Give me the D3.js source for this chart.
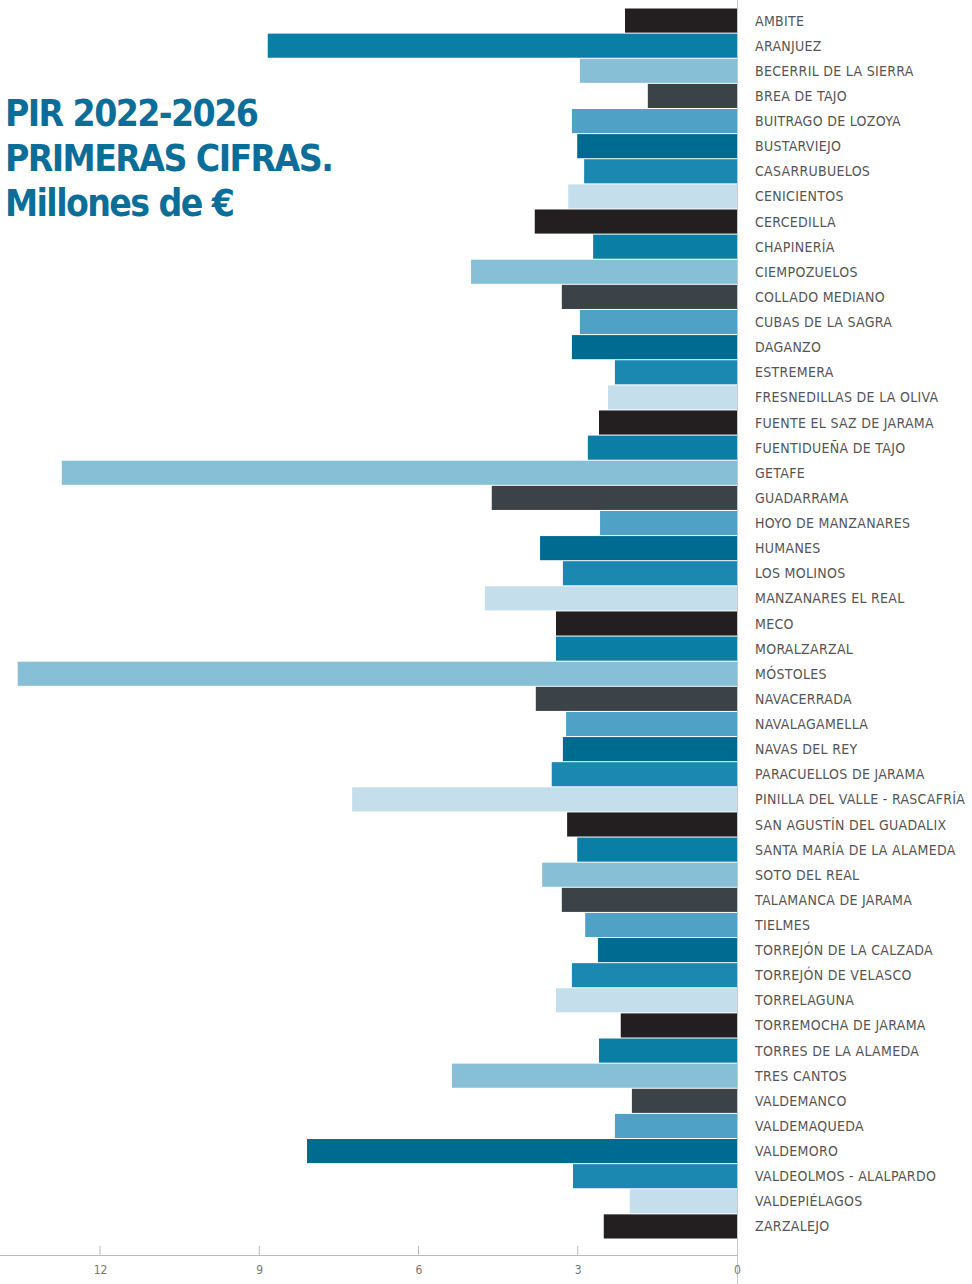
<!DOCTYPE html>
<html><head><meta charset="utf-8">
<script src="https://cdn.jsdelivr.net/npm/d3@7"></script>
<style>body{margin:0;background:#fff}svg{display:block}</style>
</head><body>
<svg id="c" width="972" height="1284"></svg>
<script>
const categories = ["AMBITE","ARANJUEZ","BECERRIL DE LA SIERRA","BREA DE TAJO","BUITRAGO DE LOZOYA","BUSTARVIEJO","CASARRUBUELOS","CENICIENTOS","CERCEDILLA","CHAPINERÍA","CIEMPOZUELOS","COLLADO MEDIANO","CUBAS DE LA SAGRA","DAGANZO","ESTREMERA","FRESNEDILLAS DE LA OLIVA","FUENTE EL SAZ DE JARAMA","FUENTIDUEÑA DE TAJO","GETAFE","GUADARRAMA","HOYO DE MANZANARES","HUMANES","LOS MOLINOS","MANZANARES EL REAL","MECO","MORALZARZAL","MÓSTOLES","NAVACERRADA","NAVALAGAMELLA","NAVAS DEL REY","PARACUELLOS DE JARAMA","PINILLA DEL VALLE - RASCAFRÍA","SAN AGUSTÍN DEL GUADALIX","SANTA MARÍA DE LA ALAMEDA","SOTO DEL REAL","TALAMANCA DE JARAMA","TIELMES","TORREJÓN DE LA CALZADA","TORREJÓN DE VELASCO","TORRELAGUNA","TORREMOCHA DE JARAMA","TORRES DE LA ALAMEDA","TRES CANTOS","VALDEMANCO","VALDEMAQUEDA","VALDEMORO","VALDEOLMOS - ALALPARDO","VALDEPIÉLAGOS","ZARZALEJO"];
const values = [2.11,8.84,2.96,1.68,3.11,3.01,2.88,3.18,3.81,2.71,5.01,3.30,2.96,3.11,2.30,2.43,2.60,2.81,12.72,4.62,2.58,3.71,3.28,4.75,3.41,3.41,13.55,3.79,3.22,3.28,3.49,7.25,3.20,3.01,3.67,3.30,2.86,2.62,3.11,3.41,2.19,2.60,5.37,1.98,2.30,8.10,3.09,2.02,2.51];
const tickValues = [0,3,6,9,12];
const palette = ["#231f20","#0a7ea4","#86bfd6","#3b4248","#4fa2c6","#006b91","#1b88b1","#c4dfeb"];
const titleLines = ["PIR 2022-2026","PRIMERAS CIFRAS.","Millones de €"];

const svg = d3.select("#c");
const x = d3.scaleLinear().domain([0,12]).range([737,100]);
const y = d3.scaleBand().domain(categories).range([8,1239]).paddingInner(0.04).paddingOuter(0.02);

svg.append("line").attr("x1",x(0)+0.5).attr("x2",x(0)+0.5).attr("y1",0).attr("y2",1284)
  .attr("stroke","#c8c8c8").attr("stroke-width",1);

svg.append("g").selectAll("rect").data(values).join("rect")
  .attr("x",d=>x(d)).attr("width",d=>x(0)-x(d))
  .attr("y",(d,i)=>y(categories[i])).attr("height",y.bandwidth())
  .attr("fill",(d,i)=>palette[i%8]);

svg.append("g").selectAll("text").data(categories).join("text")
  .attr("x",755).attr("y",d=>y(d)+y.bandwidth()/2).attr("dy","0.36em")
  .attr("font-family","DejaVu Sans Condensed, sans-serif")
  .attr("font-size",14).attr("fill","#555").attr("letter-spacing",0.3).text(d=>d);

const ax = svg.append("g").attr("transform","translate(0,1255)")
  .call(d3.axisBottom(x).tickValues(tickValues).tickSize(0).tickPadding(10).tickFormat(d3.format("d")));
ax.select(".domain").remove();
ax.selectAll("text").attr("font-family","DejaVu Sans Condensed, sans-serif").attr("font-size",12).attr("fill","#777");
svg.append("line").attr("x1",0).attr("x2",x(0)).attr("y1",1255.5).attr("y2",1255.5).attr("stroke","#bbb");
svg.append("g").selectAll("line").data(tickValues.filter(d=>d>0)).join("line")
  .attr("x1",d=>x(d)).attr("x2",d=>x(d)).attr("y1",1246).attr("y2",1255).attr("stroke","#bbb");

svg.append("g").selectAll("text").data(titleLines).join("text")
  .attr("x",5).attr("y",(d,i)=>126+i*45)
  .attr("font-family","DejaVu Sans Condensed, sans-serif")
  .attr("font-weight","bold").attr("font-size",37).attr("fill","#0b6e99")
  .attr("letter-spacing",-1.6).text(d=>d);
</script>
</body></html>
